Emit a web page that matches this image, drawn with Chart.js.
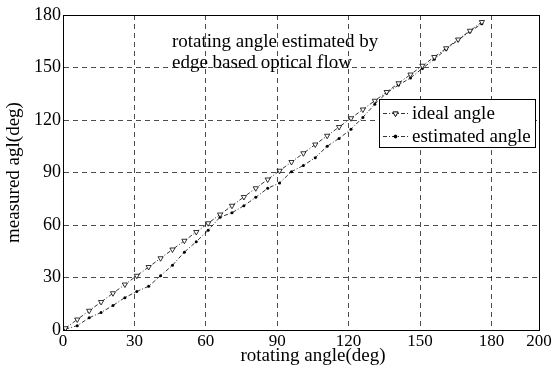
<!DOCTYPE html>
<html lang="en">
<head>
    <meta charset="UTF-8">
    <title>Rotating angle estimation</title>
    <script src="https://cdn.jsdelivr.net/npm/chart.js"></script>
    <style>
        body { margin: 0; background: #fff; }
        #wrap { width: 553px; height: 371px; position: relative; }
    </style>
</head>
<body>
    <div id="wrap"><canvas id="angleChart"></canvas></div>

    <script>
    // rotating angle (deg) at which each sample was taken
    const rotAngles = [1, 6, 11, 16, 21, 26, 31, 36, 41, 46, 51, 56, 61, 66, 71, 76, 81, 86,
                       91, 96, 101, 106, 111, 116, 121, 126, 131, 136, 141, 146, 151, 156, 161, 166, 171, 176];
    const idealAngle = [1, 6, 11, 16, 21, 26, 31, 36, 41, 46, 51, 56, 61, 66, 71, 76, 81, 86,
                        91, 96, 101, 106, 111, 116, 121, 126, 131, 136, 141, 146, 151, 156, 161, 166, 171, 176];
    const estimatedAngle = [0.5, 2.5, 7, 10, 14, 18.5, 22, 25, 31, 37, 44.5, 50.5, 57, 64.5, 67, 71, 75.8, 81,
                            84, 90.5, 94, 98.5, 105, 109.5, 114.7, 121.5, 129, 135.5, 140, 144, 149.5, 154.7, 160.4, 165.7, 170.5, 175];
    const xTicks = [0, 30, 60, 90, 120, 150, 180, 200];
    const yTicks = [0, 30, 60, 90, 120, 150, 180];

    const serif = 'Liberation Serif';
    const dashDot = [4, 2, 1, 2];

    function pts(ys) {
        return rotAngles.map((x, i) => ({x: x, y: ys[i]}));
    }

    // frame round the plot, inset caption, x title and the legend box
    const extras = {
        id: 'extras',
        afterDraw(chart) {
            const c = chart.ctx, a = chart.chartArea;
            c.save();
            c.strokeStyle = '#000';
            c.lineWidth = 1;
            c.setLineDash([]);
            c.strokeRect(a.left + 0.5, a.top + 0.5, a.right - a.left, a.bottom - a.top);

            c.fillStyle = '#000';
            c.font = '19px "' + serif + '"';
            c.textBaseline = 'alphabetic';
            c.textAlign = 'left';
            c.fillText('rotating angle estimated by', 172, 47);
            c.fillText('edge based optical flow', 172, 68);

            // x title sits a little right of centre in the original
            c.textAlign = 'center';
            c.textBaseline = 'middle';
            c.fillText('rotating angle(deg)', 313, 356);
            c.textAlign = 'left';

            // legend
            const lx = 379, ly = 99, lw = 156, lh = 48;
            c.fillStyle = '#fff';
            c.fillRect(lx, ly, lw, lh);
            c.strokeRect(lx + 0.5, ly + 0.5, lw, lh);
            const rows = [{y: 113, ds: chart.data.datasets[0]}, {y: 136, ds: chart.data.datasets[1]}];
            rows.forEach(r => {
                c.strokeStyle = '#000';
                c.lineWidth = 0.8;
                c.setLineDash(dashDot);
                c.beginPath();
                c.moveTo(383, r.y + 0.5);
                c.lineTo(408, r.y + 0.5);
                c.stroke();
                c.setLineDash([]);
                Chart.helpers.drawPoint(c, {
                    pointStyle: r.ds.pointStyle, rotation: r.ds.pointRotation || 0,
                    radius: r.ds.pointRadius, borderWidth: r.ds.pointBorderWidth || 1
                }, 395.5, r.y + 0.5);
                if (r.ds.pointBackgroundColor === '#000') {
                    c.fillStyle = '#000';
                    c.fill();
                } else {
                    c.fillStyle = '#fff';
                    c.fill();
                    c.stroke();
                }
                c.fillStyle = '#000';
                c.font = '19px "' + serif + '"';
                c.textBaseline = 'middle';
                c.fillText(r.ds.label, 412, r.y + 1);
            });
            c.restore();
        }
    };

    new Chart(document.getElementById('angleChart').getContext('2d'), {
        type: 'line',
        data: {
            datasets: [{
                label: 'ideal angle',
                data: pts(idealAngle),
                borderColor: '#000',
                borderWidth: 0.8,
                borderDash: dashDot,
                pointStyle: 'triangle',
                pointRotation: 180,
                pointRadius: 3,
                pointBorderWidth: 0.8,
                pointBorderColor: '#000',
                pointBackgroundColor: '#fff',
                fill: false
            }, {
                label: 'estimated angle',
                data: pts(estimatedAngle),
                borderColor: '#000',
                borderWidth: 0.8,
                borderDash: dashDot,
                pointStyle: 'circle',
                pointRadius: 1.5,
                pointBorderWidth: 0,
                pointBorderColor: '#000',
                pointBackgroundColor: '#000',
                fill: false
            }]
        },
        options: {
            responsive: true,
            maintainAspectRatio: false,
            animation: false,
            layout: { padding: { top: 15, right: 14, left: 0, bottom: 0 } },
            plugins: { legend: { display: false }, tooltip: { enabled: false } },
            scales: {
                x: {
                    type: 'linear',
                    min: 0, max: 200,
                    afterBuildTicks: ax => { ax.ticks = xTicks.map(v => ({value: v})); },
                    afterFit: ax => { ax.height = 41; },
                    grid: { color: 'rgba(0,0,0,0.7)', lineWidth: 1, drawTicks: false },
                    border: { display: true, color: '#000', width: 1, dash: [5, 4] },
                    ticks: { color: '#000', font: { family: serif, size: 17 }, padding: 1, maxRotation: 0, autoSkip: false },
                    title: { display: false }
                },
                y: {
                    min: 0, max: 180,
                    afterBuildTicks: ax => { ax.ticks = yTicks.map(v => ({value: v})); },
                    afterFit: ax => { ax.width = 63; },
                    grid: { color: 'rgba(0,0,0,0.7)', lineWidth: 1, drawTicks: false },
                    border: { display: true, color: '#000', width: 1, dash: [5, 4] },
                    ticks: { color: '#000', font: { family: serif, size: 18 }, padding: 2 },
                    title: { display: true, text: 'measured agl(deg)', color: '#000', font: { family: serif, size: 19 }, padding: { top: 3, bottom: 0 } }
                }
            }
        },
        plugins: [extras]
    });
    </script>
</body>
</html>
